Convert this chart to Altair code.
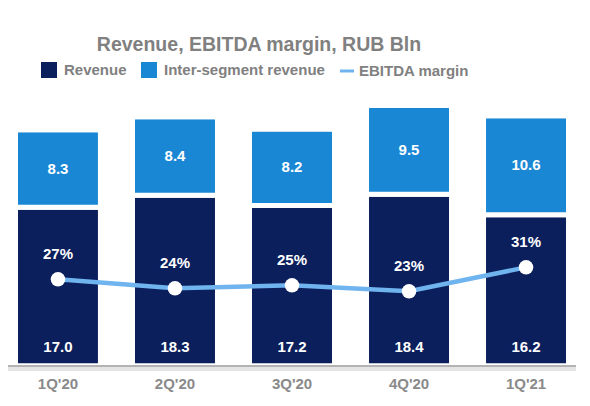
import altair as alt
import pandas as pd

quarters = ["1Q'20", "2Q'20", "3Q'20", "4Q'20", "1Q'21"]
revenue = [17.0, 18.3, 17.2, 18.4, 16.2]
inter_segment = [8.3, 8.4, 8.2, 9.5, 10.6]
ebitda_margin = [27, 24, 25, 23, 31]

NAVY = "#0b1f5c"
BLUE = "#1a87d4"
LIGHT = "#6fb4ee"
GRAY = "#808080"
FONT = "Liberation Sans"

W, H = 568, 266

df = pd.DataFrame({
    "quarter": quarters,
    "Revenue": revenue,
    "Inter-segment revenue": inter_segment,
    "margin": ebitda_margin,
})
df["inter_mid"] = df["Revenue"] + df["Inter-segment revenue"] / 2
df["margin_label"] = df["margin"].astype(str) + "%"

long = df.melt(id_vars=["quarter"], value_vars=["Revenue", "Inter-segment revenue"],
               var_name="series", value_name="value")
long["order"] = long["series"].map({"Revenue": 0, "Inter-segment revenue": 1})

x = alt.X("quarter:N", sort=quarters, title=None,
          scale=alt.Scale(paddingInner=0.316, paddingOuter=0.085),
          axis=alt.Axis(domain=False, ticks=False, labelAngle=0, labelPadding=10,
                        labelFont=FONT, labelFontSize=15, labelFontWeight="bold",
                        labelColor="#8a8a8a"))
ybar = alt.Scale(domain=[0, 28.5])
ymar = alt.Scale(domain=[-2, 87])

# white stroke gives the gap between the stacked segments
bars = alt.Chart(long).mark_bar(
    size=85, cornerRadius=3, stroke="white", strokeWidth=5
).encode(
    x=x,
    y=alt.Y("value:Q", stack="zero", scale=ybar, axis=None),
    color=alt.Color("series:N",
                    scale=alt.Scale(domain=["Revenue", "Inter-segment revenue"], range=[NAVY, BLUE]),
                    legend=alt.Legend(title=None, orient="none", direction="horizontal",
                                      legendX=33, legendY=-38, symbolType="square",
                                      symbolSize=256, symbolStrokeWidth=0, labelFont=FONT,
                                      labelFontSize=15, labelFontWeight="bold", labelLimit=300,
                                      labelColor=GRAY, columnPadding=14, labelOffset=7)),
    order=alt.Order("order:Q"),
)

inter_text = alt.Chart(df).mark_text(
    color="white", font=FONT, fontSize=15, fontWeight="bold", baseline="middle"
).encode(x=x, y=alt.Y("inter_mid:Q", scale=ybar, axis=None),
         text=alt.Text("Inter-segment revenue:Q", format=".1f"))

rev_text = alt.Chart(df).mark_text(
    color="white", font=FONT, fontSize=15, fontWeight="bold", baseline="middle", dy=-19
).encode(x=x, y=alt.datum(0, scale=ybar),
         text=alt.Text("Revenue:Q", format=".1f"))

shadow = alt.Chart(df).mark_rule(color="#e4e4e4", strokeWidth=3).encode(
    x=alt.value(-6), x2=alt.value(W + 12), y=alt.value(H + 3))
baseline = alt.Chart(df).mark_rule(color="#b3b3b3", strokeWidth=2).encode(
    x=alt.value(-6), x2=alt.value(W + 12), y=alt.value(H))

bar_layer = alt.layer(bars, inter_text, rev_text, shadow, baseline)

line = alt.Chart(df).transform_calculate(series="'EBITDA margin'").mark_line(strokeWidth=4.5).encode(
    x=x,
    y=alt.Y("margin:Q", scale=ymar, axis=None),
    stroke=alt.Stroke("series:N",
                      scale=alt.Scale(domain=["EBITDA margin"], range=[LIGHT]),
                      legend=alt.Legend(title=None, orient="none", legendX=330, legendY=-38,
                                        symbolType="stroke", symbolStrokeWidth=3, symbolSize=200,
                                        labelFont=FONT, labelFontSize=15, labelFontWeight="bold",
                                        labelColor=GRAY, labelOffset=3)),
)

points = alt.Chart(df).mark_point(filled=True, color="white", opacity=1, size=210).encode(
    x=x, y=alt.Y("margin:Q", scale=ymar, axis=None))

pct_text = alt.Chart(df).mark_text(
    color="white", font=FONT, fontSize=15, fontWeight="bold", baseline="middle", dy=-25
).encode(x=x, y=alt.Y("margin:Q", scale=ymar, axis=None), text="margin_label:N")

margin_layer = alt.layer(line, points, pct_text)

chart = alt.layer(bar_layer, margin_layer).resolve_scale(
    y="independent", color="independent"
).properties(
    width=W, height=H,
    autosize=alt.AutoSizeParams(type="none"),
    padding={"left": 0, "top": 92, "right": 0, "bottom": 32},
    title=alt.Title("Revenue, EBITDA margin, RUB Bln", font=FONT, fontSize=19.5,
                    fontWeight="bold", color=GRAY, anchor="middle", offset=7, dx=-33),
).configure_view(stroke=None)

chart.save("out.html", embed_options={"renderer": "svg", "actions": False})
